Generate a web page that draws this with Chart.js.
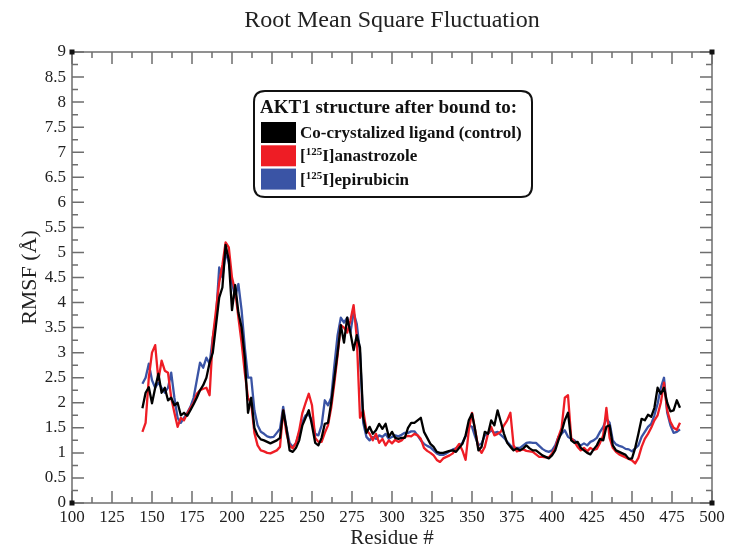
<!DOCTYPE html>
<html>
<head>
<meta charset="utf-8">
<title>Root Mean Square Fluctuation</title>
<script src="https://cdn.jsdelivr.net/npm/chart.js@4.4.1/dist/chart.umd.min.js"></script>
<style>
  html, body { margin: 0; padding: 0; background: #fff; }
  #wrap { width: 735px; height: 549px; }
</style>
</head>
<body>
<div id="wrap"><canvas id="rmsfChart" width="735" height="549"></canvas></div>
<script>
// residue numbers, every second residue of the AKT1 kinase domain
var firstResidue = 144;
var lastResidue = 480;
var residueStep = 2;

var controlRmsf = [
    1.89, 2.2, 2.31, 1.99, 2.3, 2.58, 2.2, 2.3, 2.05, 2.1,
    1.95, 2.0, 1.75, 1.8, 1.74, 1.85, 1.97, 2.1, 2.25, 2.35,
    2.5, 2.8, 3.0, 3.55, 4.1, 4.3, 5.15, 4.85, 3.85, 4.35,
    3.8, 3.5, 2.9, 1.8, 2.1, 1.5, 1.35, 1.27, 1.25, 1.22,
    1.19, 1.22, 1.25, 1.3, 1.85, 1.5, 1.05, 1.02, 1.1, 1.25,
    1.55, 1.7, 1.85, 1.55, 1.2, 1.15, 1.3, 1.58, 1.6, 2.0,
    2.5, 3.0, 3.55, 3.2, 3.7, 3.4, 3.05, 3.35, 3.1, 1.7,
    1.4, 1.52, 1.38, 1.45, 1.58, 1.48, 1.58, 1.32, 1.42, 1.3,
    1.28, 1.3, 1.3, 1.5, 1.6, 1.6, 1.65, 1.7, 1.42, 1.3,
    1.18, 1.12, 1.02, 1.0, 1.0, 1.02, 1.04, 1.05, 1.02, 1.1,
    1.18, 1.35, 1.65, 1.78, 1.45, 1.05, 1.12, 1.42, 1.38, 1.65,
    1.55, 1.85, 1.62, 1.38, 1.2, 1.12, 1.05, 1.09, 1.05, 1.09,
    1.15, 1.09, 1.05, 1.05, 1.0, 0.95, 0.92, 0.89, 0.95, 1.05,
    1.25, 1.42, 1.65, 1.8, 1.25, 1.2, 1.22, 1.1, 1.05, 1.0,
    0.97, 1.07, 1.15, 1.28, 1.25, 1.52, 1.55, 1.15, 1.05, 1.02,
    0.99, 0.96, 0.88, 0.89, 1.1, 1.38, 1.68, 1.65, 1.76, 1.72,
    1.9, 2.3, 2.18, 2.3, 2.0, 1.83, 1.85, 2.05, 1.9
];

var anastrozoleRmsf = [
    1.42, 1.6, 2.5, 3.0, 3.15, 2.45, 2.84, 2.64, 2.6, 2.1,
    1.8, 1.52, 1.7, 1.65, 1.78, 1.9, 2.0, 2.18, 2.25, 2.28,
    2.3, 2.15, 3.3, 3.85, 4.4, 4.75, 5.2, 5.1, 4.5, 4.23,
    3.7, 3.2, 2.6, 2.1, 2.0, 1.4, 1.15, 1.05, 1.03, 1.0,
    0.99, 1.02, 1.05, 1.12, 1.85, 1.4, 1.15, 1.09, 1.2, 1.45,
    1.8, 2.0, 2.18, 1.95, 1.3, 1.22, 1.22, 1.4, 1.55, 1.9,
    2.4, 2.95, 3.55, 3.5, 3.4, 3.64, 3.95, 3.3, 1.7, 1.85,
    1.45, 1.38, 1.25, 1.38, 1.2, 1.28, 1.15, 1.25, 1.19, 1.26,
    1.22, 1.25, 1.32, 1.34, 1.33, 1.38, 1.35, 1.28, 1.1, 1.04,
    1.0, 0.95, 0.86, 0.82, 0.89, 0.92, 0.95, 0.99, 1.09, 1.18,
    1.05, 0.86, 1.45, 1.8, 1.45, 1.1, 1.0, 1.12, 1.38, 1.52,
    1.35, 1.38, 1.42, 1.55, 1.65, 1.8, 1.15, 1.03, 1.05, 1.07,
    1.04, 1.03, 1.02, 0.97, 0.92, 0.92, 0.91, 0.91, 0.99, 1.09,
    1.32, 1.5, 2.1, 2.15, 1.3, 1.22, 1.12, 1.05, 1.1, 1.03,
    1.1, 1.06, 1.08, 1.2, 1.35, 1.9, 1.3, 1.1, 1.02, 0.97,
    0.94, 0.91, 0.88, 0.85, 0.79, 0.9, 1.12, 1.28, 1.38, 1.5,
    1.65, 1.75, 2.0, 2.4, 1.85, 1.62, 1.5, 1.46, 1.6
];

var epirubicinRmsf = [
    2.38, 2.5, 2.78, 2.45, 2.3, 2.4, 2.3, 2.2, 2.3, 2.6,
    2.1, 1.7, 1.6, 1.7, 1.8, 1.92, 2.1, 2.45, 2.8, 2.7,
    2.9, 2.78, 3.3, 3.7, 4.7, 4.5, 5.0, 4.8, 4.4, 4.1,
    4.37, 3.85, 3.1, 2.5, 2.5, 1.85, 1.55, 1.42, 1.38, 1.33,
    1.31, 1.32, 1.4, 1.48, 1.92, 1.5, 1.2, 1.12, 1.2, 1.4,
    1.62, 1.75, 1.76, 1.65, 1.38, 1.35, 1.55, 2.05, 1.95, 2.1,
    2.75, 3.35, 3.7, 3.6, 3.7, 3.4, 3.8, 3.57, 3.0, 1.6,
    1.32, 1.25, 1.32, 1.28, 1.35, 1.32, 1.38, 1.28, 1.32, 1.35,
    1.33, 1.36, 1.4, 1.4, 1.43, 1.43, 1.35, 1.25, 1.18, 1.14,
    1.11, 1.05, 0.99, 0.96, 0.96, 0.99, 1.03, 1.07, 1.09, 1.14,
    1.2, 1.33, 1.55, 1.52, 1.32, 1.15, 1.19, 1.35, 1.38, 1.45,
    1.4, 1.42, 1.36, 1.3, 1.22, 1.15, 1.1, 1.1, 1.1, 1.15,
    1.2, 1.21, 1.2, 1.2, 1.14, 1.08, 1.04, 1.02, 1.05, 1.15,
    1.32, 1.38, 1.45, 1.32, 1.28, 1.25, 1.19, 1.15, 1.19, 1.15,
    1.22, 1.25, 1.3, 1.42, 1.52, 1.68, 1.6, 1.25, 1.17, 1.14,
    1.12, 1.08, 1.07, 1.03, 1.09, 1.15, 1.32, 1.42, 1.52, 1.58,
    1.75, 1.98, 2.3, 2.5, 1.8, 1.55, 1.4, 1.42, 1.47
];

var seriesNames = ["Co-crystalized ligand (control)", "[125I]anastrozole", "[125I]epirubicin"];
var seriesColors = ["#000000", "#ee1d25", "#3a54a5"];

var residues = [];
for (var r = firstResidue; r <= lastResidue; r += residueStep) {
    residues.push(r);
}

function toPoints(values) {
    var pts = [];
    for (var i = 0; i < residues.length; i++) {
        pts.push({ x: residues[i], y: values[i] });
    }
    return pts;
}

var serif = '"Liberation Serif", "DejaVu Serif", serif';

// frame with inward ticks on all four sides, like the old xmgrace plots
var gracePlot = {
    id: 'gracePlot',
    afterDatasetsDraw: function (chart) {
        var ctx = chart.ctx;
        var a = chart.chartArea;
        var xs = chart.scales.x;
        var ys = chart.scales.y;
        ctx.save();
        ctx.strokeStyle = '#6e6e6e';
        ctx.lineWidth = 1.5;
        ctx.strokeRect(a.left, a.top, a.right - a.left, a.bottom - a.top);

        ctx.beginPath();
        var xt = xs.ticks;
        for (var i = 0; i < xt.length; i++) {
            var px = xs.getPixelForValue(xt[i].value);
            ctx.moveTo(px, a.bottom); ctx.lineTo(px, a.bottom - 12);
            ctx.moveTo(px, a.top); ctx.lineTo(px, a.top + 12);
            if (i < xt.length - 1) {
                var mx = xs.getPixelForValue((xt[i].value + xt[i + 1].value) / 2);
                ctx.moveTo(mx, a.bottom); ctx.lineTo(mx, a.bottom - 6);
                ctx.moveTo(mx, a.top); ctx.lineTo(mx, a.top + 6);
            }
        }
        var yt = ys.ticks;
        for (var j = 0; j < yt.length; j++) {
            var py = ys.getPixelForValue(yt[j].value);
            ctx.moveTo(a.left, py); ctx.lineTo(a.left + 12, py);
            ctx.moveTo(a.right, py); ctx.lineTo(a.right - 12, py);
            if (j < yt.length - 1) {
                var my = ys.getPixelForValue((yt[j].value + yt[j + 1].value) / 2);
                ctx.moveTo(a.left, my); ctx.lineTo(a.left + 6, my);
                ctx.moveTo(a.right, my); ctx.lineTo(a.right - 6, my);
            }
        }
        ctx.stroke();

        // little black squares at the corners
        ctx.fillStyle = '#111';
        [[a.left, a.top], [a.right, a.top], [a.left, a.bottom], [a.right, a.bottom]].forEach(function (c) {
            ctx.fillRect(c[0] - 2.5, c[1] - 2.5, 5, 5);
        });
        ctx.restore();
    },
    afterDraw: function (chart) {
        var ctx = chart.ctx;
        var a = chart.chartArea;
        ctx.save();
        ctx.fillStyle = '#222';
        ctx.font = '24px ' + serif;
        ctx.textAlign = 'center';
        ctx.textBaseline = 'middle';
        ctx.fillText('Root Mean Square Fluctuation', (a.left + a.right) / 2, 21);
        ctx.restore();
        drawLegendBox(ctx);
    }
};

function roundRect(ctx, x, y, w, h, r) {
    ctx.beginPath();
    ctx.moveTo(x + r, y);
    ctx.lineTo(x + w - r, y);
    ctx.quadraticCurveTo(x + w, y, x + w, y + r);
    ctx.lineTo(x + w, y + h - r);
    ctx.quadraticCurveTo(x + w, y + h, x + w - r, y + h);
    ctx.lineTo(x + r, y + h);
    ctx.quadraticCurveTo(x, y + h, x, y + h - r);
    ctx.lineTo(x, y + r);
    ctx.quadraticCurveTo(x, y, x + r, y);
    ctx.closePath();
}

// writes "[125I]..." with the isotope number raised
function drawLabel(ctx, text, x, y) {
    var m = text.match(/^\[(\d+)(.*)$/);
    ctx.font = 'bold 17px ' + serif;
    if (!m) {
        ctx.fillText(text, x, y);
        return;
    }
    ctx.fillText('[', x, y);
    x += ctx.measureText('[').width;
    ctx.font = 'bold 11px ' + serif;
    ctx.fillText(m[1], x, y - 6);
    x += ctx.measureText(m[1]).width;
    ctx.font = 'bold 17px ' + serif;
    ctx.fillText(m[2], x, y);
}

function drawLegendBox(ctx) {
    var bx = 254, by = 91, bw = 278, bh = 106;
    ctx.save();
    roundRect(ctx, bx, by, bw, bh, 11);
    ctx.fillStyle = '#fff';
    ctx.fill();
    ctx.lineWidth = 2;
    ctx.strokeStyle = '#111';
    ctx.stroke();

    ctx.fillStyle = '#111';
    ctx.textAlign = 'left';
    ctx.textBaseline = 'alphabetic';
    ctx.font = 'bold 19px ' + serif;
    ctx.fillText('AKT1 structure after bound to:', bx + 6, by + 22);

    for (var i = 0; i < seriesNames.length; i++) {
        var rowTop = by + 31 + i * 23.3;
        ctx.fillStyle = seriesColors[i];
        ctx.fillRect(bx + 7, rowTop, 35, 21);
        ctx.fillStyle = '#111';
        drawLabel(ctx, seriesNames[i], bx + 46, rowTop + 16);
    }
    ctx.restore();
}

var ctxR = document.getElementById('rmsfChart').getContext('2d');
var rmsfChart = new Chart(ctxR, {
    type: 'line',
    data: {
        datasets: [
            { label: seriesNames[0], data: toPoints(controlRmsf), borderColor: seriesColors[0], order: 0 },
            { label: seriesNames[1], data: toPoints(anastrozoleRmsf), borderColor: seriesColors[1], order: 1 },
            { label: seriesNames[2], data: toPoints(epirubicinRmsf), borderColor: seriesColors[2], order: 2 }
        ]
    },
    options: {
        responsive: false,
        animation: false,
        layout: { padding: { top: 52, right: 23, left: 0, bottom: 0 } },
        elements: {
            line: { borderWidth: 2.3, tension: 0, borderJoinStyle: 'round' },
            point: { radius: 0 }
        },
        plugins: {
            legend: { display: false },
            tooltip: { enabled: false }
        },
        scales: {
            x: {
                type: 'linear',
                min: 100,
                max: 500,
                grid: { display: false, drawTicks: false },
                border: { display: false },
                ticks: {
                    stepSize: 25,
                    autoSkip: false,
                    maxRotation: 0,
                    padding: 4,
                    color: '#222',
                    font: { family: serif, size: 17 }
                },
                title: {
                    display: true,
                    text: 'Residue #',
                    color: '#222',
                    padding: { top: 0, bottom: 0 },
                    font: { family: serif, size: 21, lineHeight: 1 }
                },
                afterFit: function (scale) { scale.height = 46; }
            },
            y: {
                min: 0,
                max: 9,
                grid: { display: false, drawTicks: false },
                border: { display: false },
                ticks: {
                    stepSize: 0.5,
                    padding: 6,
                    color: '#222',
                    font: { family: serif, size: 17 },
                    callback: function (value) { return String(value); }
                },
                title: {
                    display: true,
                    text: 'RMSF (Å)',
                    color: '#222',
                    padding: { top: 19, bottom: 0 },
                    font: { family: serif, size: 22, lineHeight: 1 }
                },
                afterFit: function (scale) { scale.width = 72; }
            }
        }
    },
    plugins: [gracePlot]
});
</script>
</body>
</html>
